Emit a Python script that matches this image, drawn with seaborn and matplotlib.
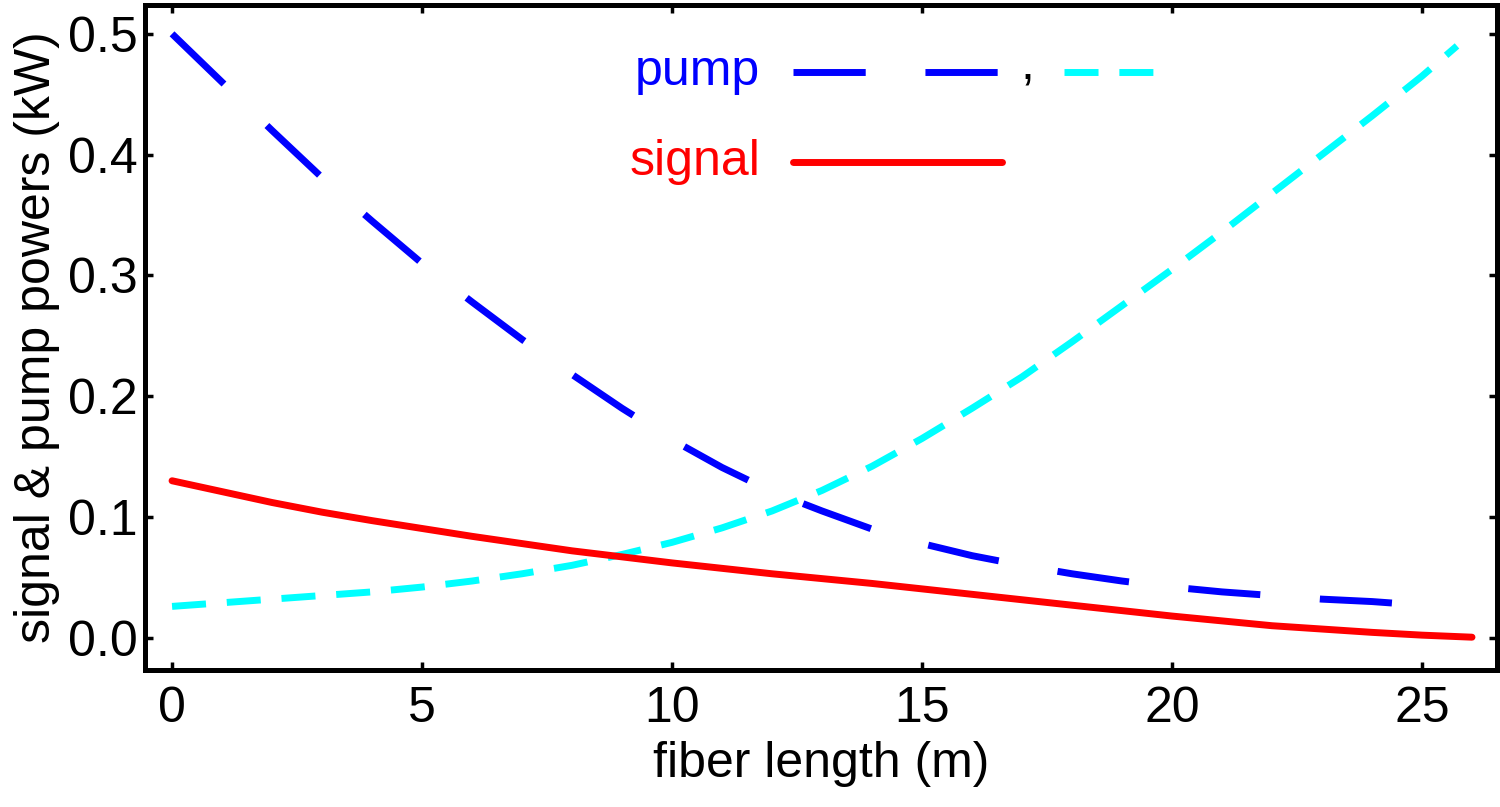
import numpy as np
import pandas as pd
import matplotlib.pyplot as plt
import seaborn as sns

# values
pump_fwd_x = [0, 1, 2, 3, 4, 5, 6, 7, 8, 9, 10, 11, 12, 13, 14, 15, 16, 17, 18, 19, 20, 21, 22, 23, 24, 25]
pump_fwd_y = [0.500, 0.460, 0.420, 0.381, 0.345, 0.310, 0.278, 0.247, 0.218, 0.190, 0.164, 0.141, 0.121, 0.105, 0.090, 0.078, 0.068, 0.060, 0.053, 0.047, 0.042, 0.038, 0.035, 0.032, 0.030, 0.027]

pump_bwd_x = [0, 1, 2, 3, 4, 5, 6, 7, 8, 9, 10, 11, 12, 13, 14, 15, 16, 17, 18, 19, 20, 21, 22, 23, 24, 25, 25.7]
pump_bwd_y = [0.026, 0.029, 0.032, 0.035, 0.038, 0.042, 0.047, 0.053, 0.060, 0.069, 0.079, 0.091, 0.105, 0.122, 0.142, 0.165, 0.190, 0.216, 0.245, 0.275, 0.305, 0.336, 0.368, 0.400, 0.432, 0.465, 0.490]

signal_x = [0, 1, 2, 3, 4, 6, 8, 10, 12, 14, 16, 18, 20, 22, 24, 25, 26]
signal_y = [0.130, 0.121, 0.112, 0.104, 0.097, 0.084, 0.072, 0.062, 0.053, 0.045, 0.036, 0.027, 0.018, 0.010, 0.0045, 0.0022, 0.0005]

x_ticks = [0, 5, 10, 15, 20, 25]
y_ticks = [0.0, 0.1, 0.2, 0.3, 0.4, 0.5]

sns.set_style("ticks")
plt.rcParams['font.family'] = ['Liberation Sans', 'DejaVu Sans']

fig = plt.figure(figsize=(15, 8.07), dpi=100)
ax = fig.add_axes([0.0967, 0.170, 0.9013, 0.824])

long_dash = (0, (10.4, 8.6))
short_dash = (0, (4.9, 3.0))

fwd = pd.DataFrame({"x": pump_fwd_x, "y": pump_fwd_y})
bwd = pd.DataFrame({"x": pump_bwd_x, "y": pump_bwd_y})
sig = pd.DataFrame({"x": signal_x, "y": signal_y})

sns.lineplot(data=fwd, x="x", y="y", ax=ax, color="#0000ff", lw=5, linestyle=long_dash)
sns.lineplot(data=bwd, x="x", y="y", ax=ax, color="#00ffff", lw=5, linestyle=short_dash)
sns.lineplot(data=sig, x="x", y="y", ax=ax, color="#ff0000", lw=5)
for ln in ax.lines:
    ln.set_dash_capstyle("butt")

ax.set_xlim(-0.54, 26.5)
ax.set_ylim(-0.0265, 0.524)
ax.set_xticks(x_ticks)
ax.set_yticks(y_ticks)
ax.set_yticklabels([f"{v:.1f}" for v in y_ticks])
ax.tick_params(direction="in", length=6, width=2.5, labelsize=36,
               top=True, right=True, colors="black")
ax.tick_params(axis="x", pad=12)
ax.tick_params(axis="y", pad=5)
for sp in ax.spines.values():
    sp.set_linewidth(3.6)
    sp.set_color("black")
    sp.set_visible(True)

ax.set_xlabel("fiber length (m)", fontsize=36, labelpad=6, color="black")
ax.set_ylabel("signal & pump powers (kW)", fontsize=36, labelpad=6, color="black")

# legend drawn by hand
ax.text(0.455, 0.899, "pump", color="#0000ff", fontsize=36, ha="right", va="center", transform=ax.transAxes)
ax.text(0.455, 0.764, "signal", color="#ff0000", fontsize=36, ha="right", va="center", transform=ax.transAxes)
ax.plot([0.479, 0.632], [0.899, 0.899], color="#0000ff", lw=5, linestyle=long_dash,
        dash_capstyle="butt", transform=ax.transAxes)
ax.text(0.653, 0.889, ",", color="black", fontsize=36, ha="center", va="baseline", transform=ax.transAxes)
ax.plot([0.680, 0.749], [0.899, 0.899], color="#00ffff", lw=5, linestyle=short_dash,
        dash_capstyle="butt", transform=ax.transAxes)
ax.plot([0.479, 0.634], [0.764, 0.764], color="#ff0000", lw=5, transform=ax.transAxes)

plt.savefig("out.png", dpi=100)
